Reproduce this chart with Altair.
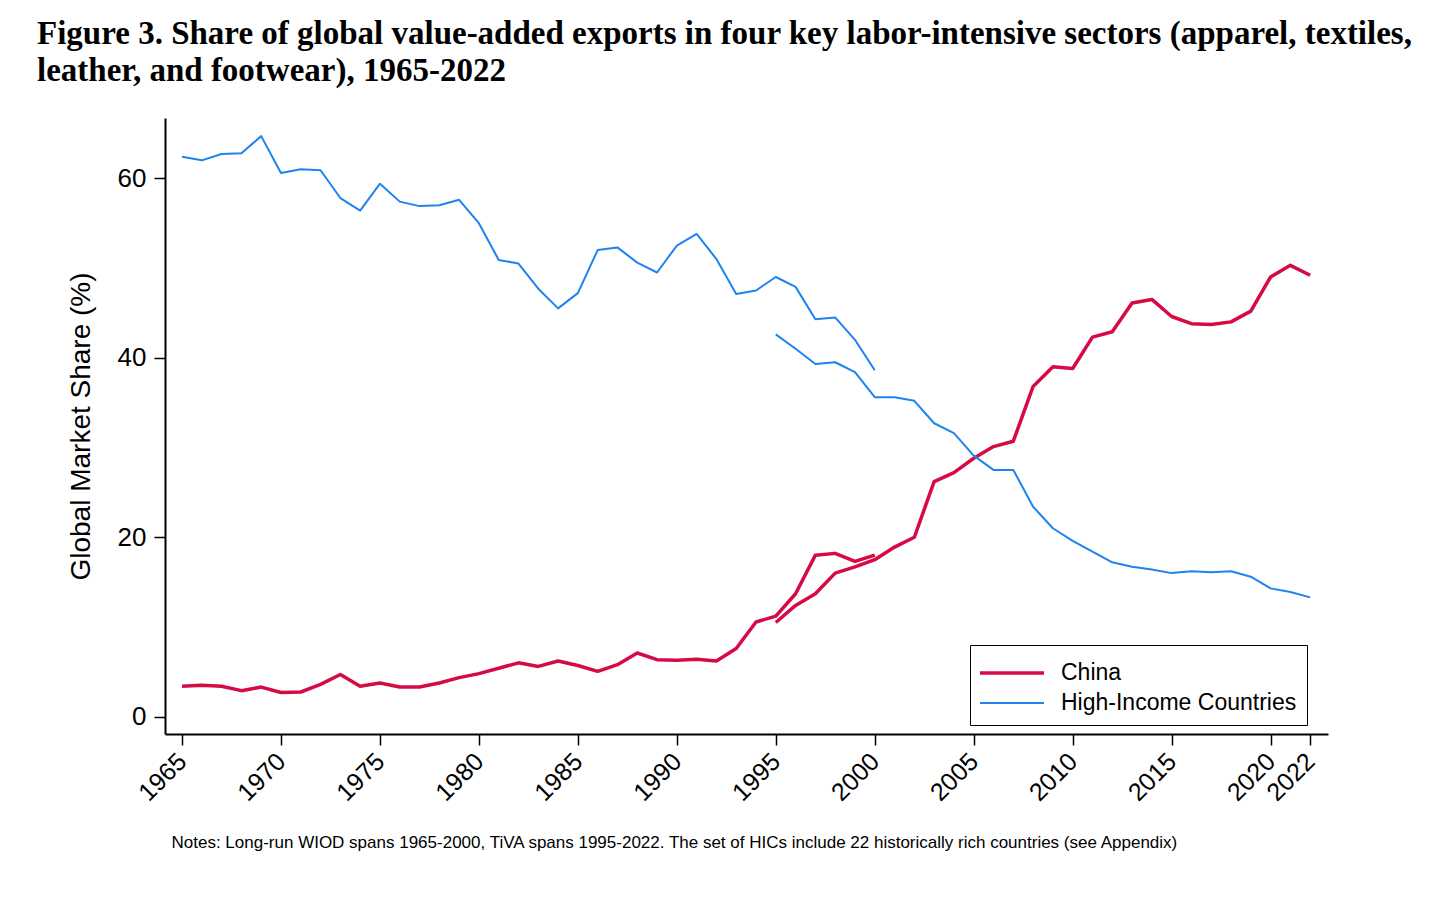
import pandas as pd
import altair as alt

# years covered by each source
years_wiod = list(range(1965, 2001))
years_tiva = list(range(1995, 2023))

# values (%)
china_wiod = [3.4, 3.5, 3.4, 2.9, 3.3, 2.7, 2.75, 3.6, 4.7, 3.4,
              3.75, 3.3, 3.3, 3.75, 4.35, 4.8, 5.4, 6.0, 5.6, 6.2,
              5.7, 5.05, 5.8, 7.1, 6.35, 6.3, 6.4, 6.2, 7.6, 10.55,
              11.2, 13.7, 18.0, 18.2, 17.3, 18.0]
china_tiva = [10.5, 12.4, 13.7, 16.0, 16.7, 17.5, 18.9, 20.0, 26.2, 27.2,
              28.8, 30.1, 30.7, 36.8, 39.0, 38.8, 42.3, 42.9, 46.1, 46.5,
              44.6, 43.8, 43.7, 44.0, 45.2, 49.0, 50.3, 49.2]
hic_wiod = [62.4, 62.0, 62.7, 62.8, 64.7, 60.6, 61.0, 60.9, 57.8, 56.4,
            59.4, 57.4, 56.9, 57.0, 57.6, 55.0, 50.9, 50.5, 47.7, 45.5,
            47.2, 52.0, 52.3, 50.6, 49.5, 52.5, 53.8, 51.0, 47.1, 47.5,
            49.0, 47.9, 44.3, 44.5, 42.0, 38.6]
hic_tiva = [42.6, 41.0, 39.3, 39.5, 38.4, 35.6, 35.6, 35.2, 32.7, 31.6,
            29.1, 27.5, 27.5, 23.4, 21.0, 19.6, 18.4, 17.2, 16.7, 16.4,
            16.0, 16.2, 16.1, 16.2, 15.6, 14.3, 13.9, 13.3]

countries = ["China", "High-Income Countries"]
colors = ["#d60a45", "#1f83ee"]
x_ticks = [1965, 1970, 1975, 1980, 1985, 1990, 1995, 2000, 2005, 2010, 2015, 2020, 2022]
y_ticks = [0, 20, 40, 60]

title_lines = [
    "Figure 3. Share of global value-added exports in four key labor-intensive sectors (apparel, textiles,",
    "leather, and footwear), 1965-2022",
]
notes = ("Notes: Long-run WIOD spans 1965-2000, TiVA spans 1995-2022. "
         "The set of HICs include 22 historically rich countries (see Appendix)")

rows = []
for country, source, years, vals in [
    ("China", "WIOD", years_wiod, china_wiod),
    ("China", "TiVA", years_tiva, china_tiva),
    ("High-Income Countries", "WIOD", years_wiod, hic_wiod),
    ("High-Income Countries", "TiVA", years_tiva, hic_tiva),
]:
    for yr, v in zip(years, vals):
        rows.append({"country": country, "source": source, "year": yr, "share": v})
df = pd.DataFrame(rows)

sans = "Liberation Sans"

chart = alt.Chart(df).mark_line(strokeJoin="round").encode(
    x=alt.X("year:Q",
            scale=alt.Scale(domain=[1964.14, 2022.9], nice=False, zero=False),
            axis=alt.Axis(values=x_ticks, format="d", labelAngle=315,
                          labelAlign="right", labelBaseline="middle", labelPadding=12,
                          labelOverlap=False, labelFontSize=25,
                          title=notes, titleX=6, titleY=113, titleAlign="left",
                          titleAnchor="start", titleBaseline="alphabetic",
                          titleFontSize=17, titleFontWeight="normal")),
    y=alt.Y("share:Q",
            scale=alt.Scale(domain=[-1.93, 66.72], nice=False, zero=False),
            axis=alt.Axis(values=y_ticks, title="Global Market Share (%)",
                          labelFontSize=26, labelPadding=8,
                          titleFontSize=28, titlePadding=22)),
    color=alt.Color("country:N", title=None,
                    scale=alt.Scale(domain=countries, range=colors),
                    legend=alt.Legend(orient="none", legendX=805, legendY=527,
                                      strokeColor="black", fillColor="white",
                                      padding=10, symbolType="M-2,0H2",
                                      symbolSize=1024, symbolStrokeWidth=3,
                                      symbolOffset=14,
                                      labelFontSize=23, labelFont=sans,
                                      labelColor="black", labelOffset=31,
                                      labelExpr="datum.label + '\u00a0\u00a0\u00a0\u00a0'",
                                      labelLimit=400, rowPadding=1)),
    strokeWidth=alt.StrokeWidth("country:N",
                                scale=alt.Scale(domain=countries, range=[3.5, 2]),
                                legend=None),
    detail="source:N",
    order="year:Q",
).properties(
    width=1163,
    height=616,
    padding={"left": 157, "top": 110, "right": 110, "bottom": 150},
    autosize=alt.AutoSizeParams(type="none"),
    background="white",
    title=alt.TitleParams(text=title_lines, anchor="start", frame="group",
                          dx=-128, offset=30, fontSize=33, lineHeight=37,
                          font="Liberation Serif", fontWeight="bold",
                          color="black"),
).configure_axis(
    grid=False,
    domainColor="black",
    domainWidth=2,
    tickColor="black",
    tickWidth=1.5,
    tickSize=11,
    labelFont=sans,
    labelColor="black",
    titleFont=sans,
    titleColor="black",
    titleFontWeight="normal",
).configure_view(
    strokeWidth=0,
)

chart.save("out.html", embed_options={"renderer": "svg", "actions": False})
